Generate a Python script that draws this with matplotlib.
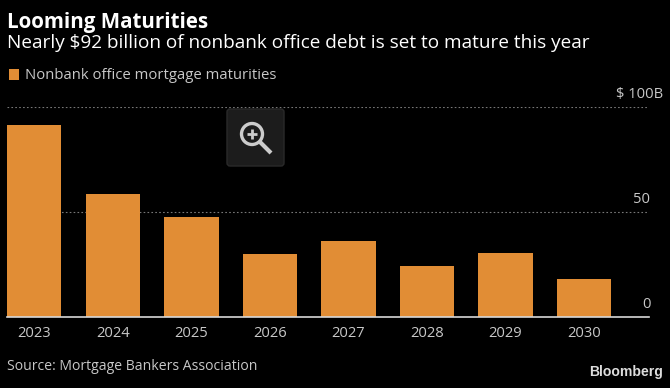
import matplotlib
matplotlib.use("Agg")
import matplotlib.pyplot as plt
from matplotlib.patches import Circle, FancyBboxPatch, Rectangle

years = ["2023", "2024", "2025", "2026", "2027", "2028", "2029", "2030"]
maturities = [91.5, 58.8, 47.8, 30, 36.2, 24.5, 30.5, 18]
y_ticks = [0, 50, 100]
y_labels = ["0", "50", "$ 100B"]

W, H = 670, 388
ORANGE = "#e18d35"
GREY = "#c8c8c8"

plt.rcParams["font.family"] = ["Open Sans", "DejaVu Sans"]

fig = plt.figure(figsize=(W / 100, H / 100), dpi=100, facecolor="black")

# plot area, in pixels of the reference
left, right, top, bottom = 7, 649, 107, 317
ax = fig.add_axes([left / W, 1 - bottom / H, (right - left) / W, (bottom - top) / H])
ax.set_facecolor("black")

ax.bar(range(len(years)), maturities, width=0.694, color=ORANGE, zorder=2)
ax.set_xlim(-0.347, 7.83)
ax.set_ylim(0, 100)

for spine in ["top", "left", "right"]:
    ax.spines[spine].set_visible(False)
ax.spines["bottom"].set_color("#d8d8d8")
ax.spines["bottom"].set_linewidth(1.2)
ax.spines["bottom"].set_zorder(3)

ax.set_xticks(range(len(years)), years)
ax.tick_params(axis="x", length=0, pad=6.5, labelsize=10.6, labelcolor=GREY)

ax.set_yticks(y_ticks[1:])
ax.set_yticklabels([])
ax.tick_params(axis="y", length=0)
ax.grid(axis="y", color="#777777", linestyle=(0, (1.5, 2)), linewidth=0.8, zorder=1)
ax.set_axisbelow(True)

# value labels sit above the gridlines at the right end of the axis
for tick, label, x_pad in zip(y_ticks, y_labels, [1, 1, 10]):
    ax.annotate(label, xy=(1, tick), xycoords=("axes fraction", "data"),
                xytext=(x_pad, 3.3), textcoords="offset points",
                ha="right", va="bottom", color=GREY, fontsize=10.6)

fig.text(7 / W, 1 - 28 / H, "Looming Maturities", color="white",
         fontsize=14.8, fontweight="bold", va="baseline")
fig.text(7 / W, 1 - 48 / H, "Nearly $92 billion of nonbank office debt is set to mature this year",
         color="white", fontsize=13.72, va="baseline")
fig.text(25 / W, 1 - 79 / H, "Nonbank office mortgage maturities", color=GREY,
         fontsize=10.75, va="baseline")
fig.text(7 / W, 1 - 370 / H, "Source: Mortgage Bankers Association", color=GREY,
         fontsize=10.05, va="baseline")
fig.text(663 / W, 1 - 376 / H, "Bloomberg", color="#dddddd", fontsize=10.1,
         fontweight="bold", ha="right", va="baseline", family=["Liberation Sans"])

# overlay in pixel coordinates for the legend swatch and zoom button
over = fig.add_axes([0, 0, 1, 1], facecolor="none")
over.set_xlim(0, W)
over.set_ylim(H, 0)
over.axis("off")
over.add_patch(Rectangle((9, 69), 10, 11, color=ORANGE, lw=0))
over.add_patch(FancyBboxPatch((227, 109), 57, 57, boxstyle="round,pad=0,rounding_size=3",
                              facecolor="#1c1c1c", edgecolor="#2a2a2a", lw=1))
over.add_patch(Circle((252, 134), 10.5, facecolor="none", edgecolor="#cccccc", lw=2.4))
over.plot([260, 271], [142, 153], color="#cccccc", lw=3, solid_capstyle="butt")
over.plot([247, 257], [134, 134], color="#cccccc", lw=2, solid_capstyle="butt")
over.plot([252, 252], [129, 139], color="#cccccc", lw=2, solid_capstyle="butt")

fig.savefig("out.png", dpi=100, facecolor="black")
